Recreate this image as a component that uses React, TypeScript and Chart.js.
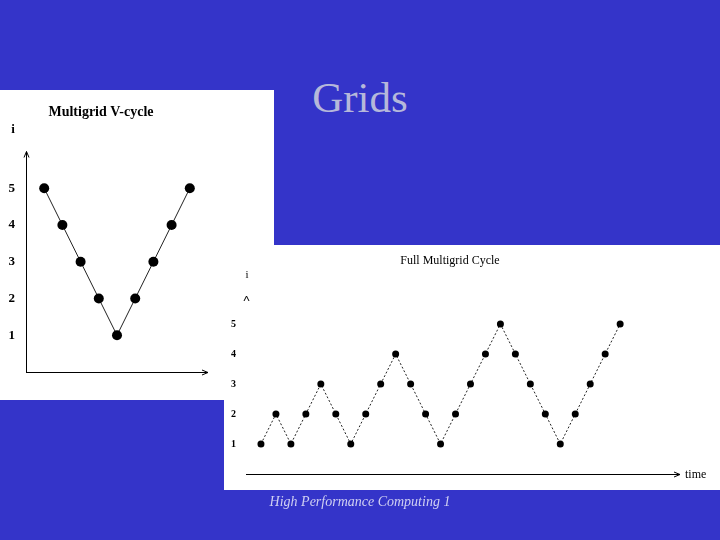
import React, { useEffect, useRef } from "react";
import { Chart, registerables } from "chart.js";

Chart.register(...registerables);

// V-cycle: grid level visited at each step
const vCycleLevels = [5, 4, 3, 2, 1, 2, 3, 4, 5];
// Full multigrid cycle: grid level visited at each step
const fmgLevels = [1, 2, 1, 2, 3, 2, 1, 2, 3, 4, 3, 2, 1, 2, 3, 4, 5, 4, 3, 2, 1, 2, 3, 4, 5];
// level tick labels on the i axis
const levelTicks = [1, 2, 3, 4, 5];

const SERIF = "'Liberation Serif', 'DejaVu Serif', serif";

type Deco = {
  title: string;
  titleX: number;
  titleY: number;
  titleFont: string;
  iX: number;
  iY: number;
  iFont: string;
  yAxisLine: boolean;
  timeLabel?: string;
};

// draws the hand-made axes, arrow heads and labels of the old figures
const slideAxes = {
  id: "slideAxes",
  afterDraw(chart: any, _args: any, opts: Deco) {
    const { ctx, chartArea } = chart;
    const { left, right, top, bottom } = chartArea;
    ctx.save();
    ctx.strokeStyle = "#000";
    ctx.fillStyle = "#000";
    ctx.lineWidth = 1;
    ctx.setLineDash([]);

    // x axis with arrow
    ctx.beginPath();
    ctx.moveTo(left, bottom + 0.5);
    ctx.lineTo(right, bottom + 0.5);
    ctx.moveTo(right - 6, bottom - 2);
    ctx.lineTo(right, bottom + 0.5);
    ctx.lineTo(right - 6, bottom + 3);
    ctx.stroke();

    if (opts.yAxisLine) {
      ctx.beginPath();
      ctx.moveTo(left + 0.5, bottom);
      ctx.lineTo(left + 0.5, top);
      ctx.moveTo(left - 2, top + 6);
      ctx.lineTo(left + 0.5, top);
      ctx.lineTo(left + 3, top + 6);
      ctx.stroke();
    } else {
      // broken axis: only the arrow head remains
      ctx.beginPath();
      ctx.moveTo(left - 2, top + 7);
      ctx.lineTo(left + 0.5, top + 2);
      ctx.lineTo(left + 3, top + 7);
      ctx.stroke();
    }

    ctx.textAlign = "center";
    ctx.textBaseline = "middle";
    ctx.font = opts.titleFont;
    ctx.fillText(opts.title, opts.titleX, opts.titleY);
    ctx.font = opts.iFont;
    ctx.fillText("i", opts.iX, opts.iY);

    if (opts.timeLabel) {
      ctx.textAlign = "left";
      ctx.font = `12px ${SERIF}`;
      ctx.fillText(opts.timeLabel, right + 5, bottom + 1);
    }
    ctx.restore();
  },
};

interface CycleChartProps {
  levels: number[];
  width: number;
  height: number;
  padding: { left: number; top: number; right: number; bottom: number };
  xMax: number;
  axisWidth: number;
  tickFont: number;
  tickPadding: number;
  pointRadius: number;
  dash: number[];
  deco: Deco;
}

const CycleChart: React.FC<CycleChartProps> = (p) => {
  const canvasRef = useRef<HTMLCanvasElement | null>(null);

  useEffect(() => {
    if (!canvasRef.current) return;
    const chart = new Chart(canvasRef.current, {
      type: "line",
      data: {
        datasets: [
          {
            data: p.levels.map((lv, i) => ({ x: i, y: lv })),
            borderColor: "#222",
            borderWidth: 1,
            borderDash: p.dash,
            pointRadius: p.pointRadius,
            pointBackgroundColor: "#000",
            pointBorderColor: "#000",
            pointBorderWidth: 0,
            tension: 0,
          },
        ],
      },
      options: {
        responsive: false,
        animation: false,
        layout: { padding: p.padding },
        plugins: {
          legend: { display: false },
          tooltip: { enabled: false },
          slideAxes: p.deco,
        } as any,
        scales: {
          x: {
            type: "linear",
            min: -1,
            max: p.xMax,
            display: false,
          },
          y: {
            min: 0,
            max: 6,
            grid: { display: false, drawTicks: false },
            border: { display: false },
            afterBuildTicks: (s: any) => {
              s.ticks = levelTicks.map((v) => ({ value: v }));
            },
            afterFit: (s: any) => {
              s.width = p.axisWidth;
            },
            ticks: {
              padding: p.tickPadding,
              color: "#000",
              font: { family: SERIF, size: p.tickFont, weight: "bold" },
            },
          },
        },
      },
      plugins: [slideAxes],
    });
    return () => chart.destroy();
  }, [p]);

  return <canvas ref={canvasRef} width={p.width} height={p.height} />;
};

const vProps: CycleChartProps = {
  levels: vCycleLevels,
  width: 274,
  height: 310,
  padding: { left: 0, top: 61.5, right: 66, bottom: 28 },
  xMax: 9,
  axisWidth: 26,
  tickFont: 13,
  tickPadding: 11,
  pointRadius: 5,
  dash: [],
  deco: {
    title: "Multigrid V-cycle",
    titleX: 101,
    titleY: 22,
    titleFont: `bold 14px ${SERIF}`,
    iX: 13,
    iY: 40,
    iFont: `bold 13px ${SERIF}`,
    yAxisLine: true,
  },
};

const fmgProps: CycleChartProps = {
  levels: fmgLevels,
  width: 496,
  height: 245,
  padding: { left: 0, top: 49, right: 40, bottom: 16 },
  xMax: 28,
  axisWidth: 22,
  tickFont: 10,
  tickPadding: 10,
  pointRadius: 3.5,
  dash: [2, 2],
  deco: {
    title: "Full Multigrid Cycle",
    titleX: 226,
    titleY: 16,
    titleFont: `12px ${SERIF}`,
    iX: 23,
    iY: 30,
    iFont: `11px ${SERIF}`,
    yAxisLine: false,
    timeLabel: "time",
  },
};

export default function App() {
  return (
    <div
      style={{
        position: "fixed",
        left: 0,
        top: 0,
        width: 720,
        height: 540,
        background: "#3434C9",
        overflow: "hidden",
        fontFamily: SERIF,
      }}
    >
      <div
        style={{
          position: "absolute",
          left: 260,
          top: 76,
          width: 200,
          textAlign: "center",
          fontSize: 43,
          lineHeight: "43px",
          color: "#B6B8DA",
        }}
      >
        Grids
      </div>
      <div style={{ position: "absolute", left: 0, top: 90, width: 274, height: 310, background: "#fff" }}>
        <CycleChart {...vProps} />
      </div>
      <div style={{ position: "absolute", left: 224, top: 245, width: 496, height: 245, background: "#fff" }}>
        <CycleChart {...fmgProps} />
      </div>
      <div
        style={{
          position: "absolute",
          left: 210,
          top: 495,
          width: 300,
          textAlign: "center",
          fontSize: 14,
          lineHeight: "14px",
          fontStyle: "italic",
          color: "#D0D0F2",
        }}
      >
        High Performance Computing 1
      </div>
    </div>
  );
}
